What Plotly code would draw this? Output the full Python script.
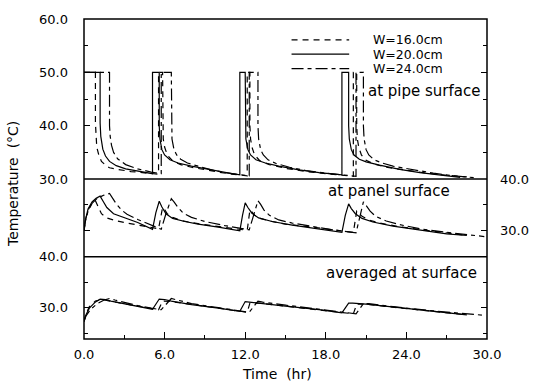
import plotly.graph_objects as go

# ---------------- data (time in hr, temperature in deg C) ----------------
# at pipe surface
pipe_t_w16 = [0, 0.85, 0.85, 0.9, 0.95, 1.1, 1.3, 1.6, 1.9, 2.5, 3.5, 5.55, 5.55, 5.85, 5.85, 5.9, 6.0, 6.2, 6.6, 7.2, 8.0, 9.0, 10.0, 11.0, 12.15, 12.15, 12.35, 12.35, 12.4, 12.5, 12.7, 13.1, 13.8, 15.0, 16.5, 18.0, 20.05, 20.05, 20.3, 20.3, 20.35, 20.45, 20.65, 21.0, 21.6, 22.5, 24.0, 25.5, 27.0, 28.5]
pipe_T_w16 = [50, 50, 40.5, 37.5, 36, 34.5, 33.3, 32.6, 32.1, 31.8, 31.4, 30.9, 50, 50, 40, 37.5, 36, 34.5, 33.4, 32.7, 32.2, 31.7, 31.3, 30.9, 30.6, 50, 50, 40, 37.5, 36, 34.5, 33.4, 32.7, 32.0, 31.4, 31.0, 30.5, 50, 50, 40, 37.5, 36, 34.5, 33.5, 32.8, 32.2, 31.6, 31.1, 30.7, 30.4]

pipe_t_w20 = [0, 1.2, 1.2, 1.25, 1.4, 1.6, 1.9, 2.4, 3.1, 4.0, 5.1, 5.1, 5.6, 5.6, 5.65, 5.8, 6.0, 6.4, 7.0, 8.0, 9.0, 10.0, 11.0, 11.6, 11.6, 12.0, 12.0, 12.05, 12.2, 12.4, 12.8, 13.5, 14.5, 16.0, 17.5, 19.2, 19.2, 19.7, 19.7, 19.75, 19.9, 20.1, 20.5, 21.0, 22.0, 23.5, 25.0, 26.5, 28.0]
pipe_T_w20 = [50, 50, 40.5, 38, 35.6, 34.3, 33.3, 32.5, 31.9, 31.5, 31.0, 50, 50, 40, 37.5, 35.5, 34.5, 33.6, 33.0, 32.4, 31.9, 31.4, 31.0, 30.8, 50, 50, 40, 37.5, 35.5, 34.5, 33.6, 33.0, 32.4, 31.7, 31.2, 30.8, 50, 50, 40, 37.5, 35.5, 34.5, 33.7, 33.2, 32.6, 31.8, 31.2, 30.7, 30.3]

pipe_t_w24 = [0, 1.9, 1.9, 1.95, 2.05, 2.2, 2.5, 3.1, 4.0, 5.0, 5.75, 5.75, 6.5, 6.5, 6.55, 6.7, 6.9, 7.2, 7.7, 8.5, 9.5, 10.5, 11.5, 12.3, 12.3, 12.95, 12.95, 13.0, 13.15, 13.35, 13.7, 14.3, 15.3, 16.5, 18.0, 20.25, 20.25, 20.8, 20.8, 20.85, 21.0, 21.2, 21.6, 22.2, 23.0, 24.5, 26.0, 27.5, 29.3]
pipe_T_w24 = [50, 50, 40, 38, 36.3, 35, 33.8, 32.7, 31.9, 31.3, 31.0, 50, 50, 40, 37.5, 35.5, 34.5, 33.7, 33.0, 32.4, 31.7, 31.2, 30.8, 30.6, 50, 50, 40, 37.5, 35.5, 34.5, 33.6, 32.9, 32.2, 31.6, 31.1, 30.5, 50, 50, 40, 37.5, 35.5, 34.5, 33.6, 33.0, 32.4, 31.7, 31.1, 30.6, 30.2]

# at panel surface
panel_t_w16 = [0, 0.1, 0.3, 0.55, 0.85, 0.95, 1.1, 1.3, 1.7, 2.3, 3.0, 4.0, 5.55, 5.85, 5.95, 6.2, 6.6, 7.2, 8.0, 9.5, 11.0, 12.15, 12.35, 12.45, 12.7, 13.1, 13.8, 15.0, 17.0, 20.05, 20.3, 20.4, 20.7, 21.2, 22.0, 23.5, 25.5, 27.5, 28.5]
panel_T_w16 = [30.0, 32.0, 34.0, 35.2, 35.8, 35.2, 34.3, 33.3, 32.5, 32.0, 31.6, 31.1, 30.4, 34.5, 34.3, 33.3, 32.6, 32.0, 31.6, 31.0, 30.5, 30.1, 34.0, 33.8, 33.0, 32.4, 31.9, 31.3, 30.7, 29.7, 33.8, 33.6, 32.8, 32.1, 31.5, 30.8, 30.1, 29.4, 29.1]

panel_t_w20 = [0, 0.1, 0.3, 0.6, 0.9, 1.2, 1.4, 1.7, 2.2, 3.0, 4.0, 5.1, 5.35, 5.6, 5.8, 6.1, 6.6, 7.5, 8.5, 10.0, 11.6, 11.8, 12.0, 12.2, 12.5, 13.0, 14.0, 15.5, 17.5, 19.2, 19.45, 19.7, 19.9, 20.2, 20.7, 21.5, 23.0, 25.0, 27.0, 28.5]
panel_T_w20 = [30.0, 32.0, 34.2, 35.6, 36.3, 36.7, 35.8, 34.5, 33.3, 32.5, 31.6, 30.3, 33.5, 35.7, 34.6, 33.3, 32.4, 31.8, 31.3, 30.7, 30.0, 33.0, 35.4, 34.5, 33.4, 32.5, 31.8, 31.1, 30.4, 29.7, 33.0, 35.2, 34.3, 33.3, 32.4, 31.7, 30.9, 30.1, 29.4, 29.1]

panel_t_w24 = [0, 0.1, 0.3, 0.6, 1.0, 1.5, 1.9, 2.1, 2.4, 2.8, 3.2, 4.0, 5.0, 5.75, 6.1, 6.5, 6.7, 7.0, 7.4, 8.0, 9.0, 10.5, 12.3, 12.6, 12.95, 13.15, 13.4, 13.8, 14.5, 15.5, 17.0, 18.5, 20.25, 20.5, 20.8, 21.0, 21.3, 21.7, 22.5, 23.5, 25.0, 27.0, 29.8]
panel_T_w24 = [30.0, 31.8, 33.8, 35.3, 36.3, 36.9, 37.2, 36.4, 35.2, 34.0, 33.2, 32.2, 31.1, 30.3, 33.3, 36.2, 35.6, 34.5, 33.4, 32.6, 31.8, 31.0, 30.2, 33.0, 35.8, 35.1, 34.0, 33.0, 32.1, 31.5, 30.8, 30.2, 29.6, 32.6, 35.6, 34.9, 33.8, 32.8, 31.9, 31.2, 30.4, 29.7, 28.9]

# averaged at surface
avg_t_w16 = [0, 0.15, 0.4, 0.85, 1.3, 2.0, 3.0, 4.0, 5.55, 5.85, 6.5, 8.0, 10.0, 12.15, 12.35, 13.0, 15.0, 17.5, 20.05, 20.3, 21.0, 23.0, 25.5, 28.5]
avg_T_w16 = [27.3, 28.8, 30.2, 31.3, 31.6, 31.3, 30.8, 30.3, 29.6, 31.3, 31.2, 30.6, 29.9, 29.1, 30.9, 30.9, 30.3, 29.6, 28.8, 30.7, 30.7, 30.1, 29.4, 28.6]

avg_t_w20 = [0, 0.15, 0.4, 0.8, 1.2, 1.6, 2.0, 3.0, 4.0, 5.1, 5.6, 6.0, 6.5, 8.0, 10.0, 11.6, 12.0, 12.3, 13.0, 15.0, 17.5, 19.2, 19.7, 20.0, 21.0, 23.0, 25.5, 28.5]
avg_T_w20 = [27.3, 28.6, 29.9, 31.0, 31.7, 31.6, 31.3, 30.8, 30.3, 29.7, 31.7, 31.6, 31.3, 30.6, 29.9, 29.3, 31.2, 31.1, 30.9, 30.3, 29.6, 29.0, 30.9, 30.9, 30.7, 30.1, 29.4, 28.6]

avg_t_w24 = [0, 0.15, 0.5, 1.0, 1.5, 1.9, 2.3, 3.0, 4.0, 5.0, 5.75, 6.5, 7.0, 8.0, 10.0, 12.3, 12.95, 13.3, 15.0, 17.5, 20.25, 20.8, 21.2, 23.0, 25.5, 29.8]
avg_T_w24 = [27.3, 28.4, 29.7, 30.8, 31.5, 31.8, 31.5, 31.0, 30.4, 29.9, 29.6, 31.8, 31.5, 30.8, 30.0, 29.1, 31.3, 31.1, 30.5, 29.7, 28.8, 30.8, 30.8, 30.2, 29.5, 28.5]

series_names = ["W=16.0cm", "W=20.0cm", "W=24.0cm"]
dash_styles = ["6px,5px", "solid", "12px,4px,4px,4px"]

x_ticks = [0, 6, 12, 18, 24, 30]
x_tick_labels = ["0.0", "6.0", "12.0", "18.0", "24.0", "30.0"]
pipe_ticks = [30, 40, 50, 60]
pipe_tick_labels = ["30.0", "40.0", "50.0", "60.0"]
panel_ticks = [30, 40]
panel_tick_labels = ["30.0", "40.0"]
avg_ticks = [30, 40]
avg_tick_labels = ["30.0", "40.0"]

panel_labels = ["at pipe surface", "at panel surface", "averaged at surface"]

# ---------------- figure ----------------
FONT = "DejaVu Sans"
fig = go.Figure()

groups = [
    ("y", [(pipe_t_w16, pipe_T_w16), (pipe_t_w20, pipe_T_w20), (pipe_t_w24, pipe_T_w24)]),
    ("y2", [(panel_t_w16, panel_T_w16), (panel_t_w20, panel_T_w20), (panel_t_w24, panel_T_w24)]),
    ("y3", [(avg_t_w16, avg_T_w16), (avg_t_w20, avg_T_w20), (avg_t_w24, avg_T_w24)]),
]
for yref, curves in groups:
    for i, (tt, TT) in enumerate(curves):
        fig.add_trace(go.Scatter(
            x=tt, y=TT, mode="lines", xaxis="x", yaxis=yref,
            name=series_names[i], showlegend=False,
            line=dict(color="black", width=1.2, dash=dash_styles[i]),
        ))

tickfont = dict(family=FONT, size=13, color="black")
common_y = dict(ticks="inside", ticklen=6, tickwidth=1, tickcolor="black",
                showgrid=False, zeroline=False, showline=False, mirror="ticks",
                tickfont=tickfont, anchor="x")

MID_LO = 0.257
fig.update_layout(
    width=541, height=383,
    margin=dict(l=84, r=45, t=12, b=44),
    paper_bgcolor="white", plot_bgcolor="white",
    showlegend=False,
    xaxis=dict(range=[0, 30], tickvals=x_ticks, ticktext=x_tick_labels,
               ticks="inside", ticklen=7, tickwidth=1, tickcolor="black",
               minor=dict(dtick=3, tick0=0, ticks="inside", ticklen=4, tickcolor="black"),
               showgrid=False, zeroline=False, showline=False,
               tickfont=tickfont, anchor="y3", domain=[0, 1], ticklabelstandoff=6),
    xaxis2=dict(range=[0, 30], tickvals=x_ticks, showticklabels=False,
                ticks="inside", ticklen=7, tickwidth=1, tickcolor="black",
                minor=dict(dtick=3, tick0=0, ticks="inside", ticklen=4, tickcolor="black"),
                showgrid=False, zeroline=False, showline=False,
                overlaying="x", side="top", anchor="free", position=1),
    yaxis=dict(domain=[0.5, 1], range=[30, 60], tickvals=pipe_ticks, ticktext=pipe_tick_labels,
               minor=dict(dtick=5, tick0=0, ticks="inside", ticklen=4, tickcolor="black"),
               side="left", ticklabelstandoff=15, **common_y),
    yaxis2=dict(domain=[MID_LO, 0.5], range=[25, 40], tickvals=panel_ticks, ticktext=panel_tick_labels,
                minor=dict(dtick=5, tick0=0, ticks="inside", ticklen=4, tickcolor="black"),
                side="right", ticklabelstandoff=12, **common_y),
    yaxis3=dict(domain=[0, MID_LO], range=[23.85, 40], tickvals=avg_ticks, ticktext=avg_tick_labels,
                minor=dict(dtick=5, tick0=0, ticks="inside", ticklen=4, tickcolor="black"),
                side="left", ticklabelstandoff=15, **common_y),
)

# frame and panel separators
fig.add_shape(type="rect", xref="paper", yref="paper", x0=0, x1=1, y0=0, y1=1,
              line=dict(color="black", width=1.5))
for yb in [MID_LO, 0.5]:
    fig.add_shape(type="line", xref="paper", yref="paper", x0=0, x1=1, y0=yb, y1=yb,
                  line=dict(color="black", width=1.3))

# legend (drawn manually)
leg_rows = [0.935, 0.890, 0.845]
for i, yy in enumerate(leg_rows):
    fig.add_shape(type="line", xref="paper", yref="paper", x0=0.515, x1=0.658, y0=yy, y1=yy,
                  line=dict(color="black", width=1.2, dash=dash_styles[i]))
    fig.add_annotation(xref="paper", yref="paper", x=0.805, y=yy, text=series_names[i],
                       showarrow=False, font=dict(family=FONT, size=12.5, color="black"),
                       xanchor="center", yanchor="middle", height=13)

# panel labels
for txt, xx, yy in zip(panel_labels, [0.845, 0.757, 0.787], [0.775, 0.462, 0.207]):
    fig.add_annotation(xref="paper", yref="paper", x=xx, y=yy, text=txt, showarrow=False,
                       font=dict(family=FONT, size=15, color="black"),
                       xanchor="center", yanchor="middle")

# axis titles
fig.add_annotation(xref="paper", yref="paper", x=0.478, y=-0.11, text="Time  (hr)",
                   showarrow=False, font=dict(family=FONT, size=14, color="black"),
                   xanchor="center", yanchor="middle")
fig.add_annotation(xref="paper", yref="paper", x=-0.175, y=0.486, text="Temperature  (\u00b0C)",
                   showarrow=False, textangle=-90, font=dict(family=FONT, size=14, color="black"),
                   xanchor="center", yanchor="middle")

fig.write_html("out.html")
